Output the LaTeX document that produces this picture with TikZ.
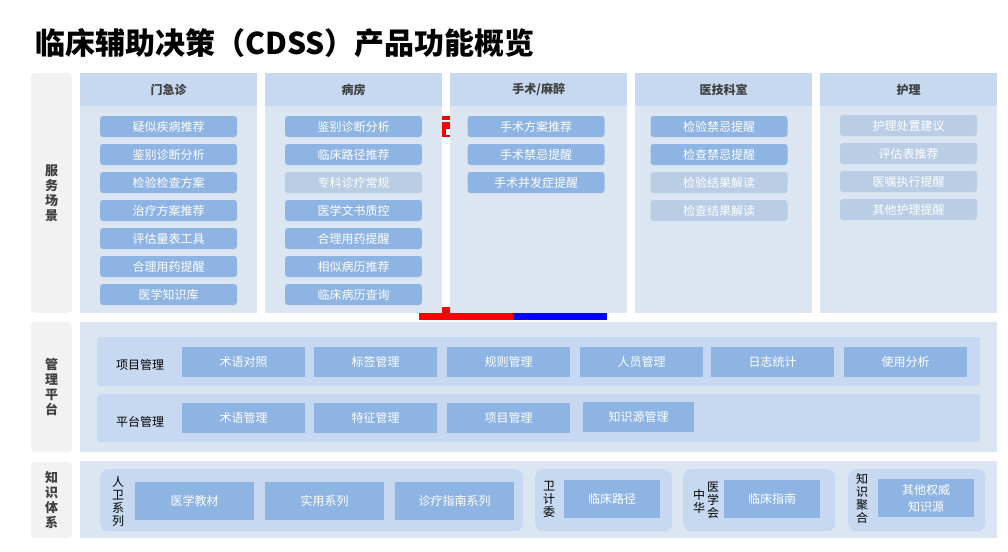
\documentclass[tikz,border=0pt]{standalone}
\usepackage{fontspec}
\setmainfont{Noto Sans CJK SC}
\usetikzlibrary{positioning}
\definecolor{sidegray}{RGB}{242,242,242}
\definecolor{headblue}{RGB}{198,217,240}
\definecolor{paneblue}{RGB}{220,230,242}
\definecolor{itemblue}{RGB}{142,180,227}
\definecolor{fadeblue}{RGB}{185,205,229}
\definecolor{darktext}{RGB}{64,64,64}

\begin{document}
\begin{tikzpicture}[x=1pt, y=-1pt,
		sidebox/.style={fill=sidegray, rounded corners=4pt, minimum width=41pt, align=center, text=darktext, font=\bfseries\fontsize{13}{15}\selectfont},
		colhead/.style={fill=headblue, minimum width=177pt, minimum height=33pt, inner sep=0pt, text=darktext, font=\bfseries\fontsize{12}{14}\selectfont},
		colbody/.style={fill=paneblue, minimum width=177pt, minimum height=207pt, inner sep=0pt},
		item/.style={fill=itemblue, rounded corners=3pt, minimum width=137pt, minimum height=21pt, inner sep=0pt, text=white, font=\fontsize{12}{14}\selectfont},
		pane/.style={fill=paneblue, inner sep=0pt, anchor=north west},
		rowbox/.style={fill=headblue, rounded corners=3pt, inner sep=0pt, anchor=north west},
		mbox/.style={fill=itemblue, minimum width=123pt, minimum height=30pt, inner sep=0pt, text=white, font=\fontsize{12}{14}\selectfont},
		kbox/.style={fill=itemblue, minimum width=96pt, minimum height=38pt, inner sep=0pt, align=center, text=white, font=\fontsize{12}{17}\selectfont},
		kgroup/.style={fill=headblue, rounded corners=8pt, inner sep=0pt, anchor=north west, minimum height=62pt},
		vlabel/.style={inner sep=0pt, align=center, font=\fontsize{12}{13}\selectfont},
		rowlabel/.style={inner sep=0pt, anchor=west, font=\fontsize{12}{14}\selectfont}]
		\useasboundingbox (0,0) rectangle (1008,551);
		% Titel
		\node[anchor=west, inner sep=0pt, font=\bfseries\fontsize{30}{32}\selectfont] (title) at (35,43) {临床辅助决策（CDSS）产品功能概览};
		% linke Leiste
		\node[sidebox, minimum height=240pt] (svc) at (51.5,193) {服\\务\\场\\景};
		\node[sidebox, minimum height=130pt] (mgt) at (51.5,387) {管\\理\\平\\台};
		\node[sidebox, minimum height=76pt] (kno) at (51.5,500) {知\\识\\体\\系};
		% Reste hinter den Spalten
		\fill[red] (442,116) rectangle (450,119.5);
		\fill[red] (442,122) rectangle (450,137);
		\fill[white] (446,129) rectangle (450,134.5);
		\fill[red] (442,307) rectangle (450,313);
		\fill[red] (419,313) rectangle (513,320);
		\fill[blue] (513,313) rectangle (607,320);
		% Spalten
		\foreach \x/\n/\t in {80/op/门急诊, 265/wd/病房, 450/sg/{手术/麻醉}, 635/mt/医技科室, 820/nr/护理} {
			\node[colhead, anchor=north west] (h\n) at (\x,73) {\t};
			\node[colbody, anchor=north west] (b\n) at (\x,106) {};
		}
		\foreach \c/\t [count=\i] in {itemblue/疑似疾病推荐, itemblue/鉴别诊断分析, itemblue/检验检查方案, itemblue/治疗方案推荐, itemblue/评估量表工具, itemblue/合理用药提醒, itemblue/医学知识库}
			\node[item, fill=\c] (op\i) at (168.5,{126.5+28*(\i-1)}) {\t};
		\foreach \c/\t [count=\i] in {itemblue/鉴别诊断分析, itemblue/临床路径推荐, fadeblue/专科诊疗常规, itemblue/医学文书质控, itemblue/合理用药提醒, itemblue/相似病历推荐, itemblue/临床病历查询}
			\node[item, fill=\c] (wd\i) at (353.5,{126.5+28*(\i-1)}) {\t};
		\foreach \c/\t [count=\i] in {itemblue/手术方案推荐, itemblue/手术禁忌提醒, itemblue/手术并发症提醒}
			\node[item, fill=\c] (sg\i) at (536,{126.5+28*(\i-1)}) {\t};
		\foreach \c/\t [count=\i] in {itemblue/检验禁忌提醒, itemblue/检查禁忌提醒, fadeblue/检验结果解读, fadeblue/检查结果解读}
			\node[item, fill=\c] (mt\i) at (719,{126.5+28*(\i-1)}) {\t};
		\foreach \c/\t [count=\i] in {fadeblue/护理处置建议, fadeblue/评估表推荐, fadeblue/医嘱执行提醒, fadeblue/其他护理提醒}
			\node[item, fill=\c] (nr\i) at (908.5,{125.5+28*(\i-1)}) {\t};
		% Verwaltungsplattform
		\node[pane, minimum width=917pt, minimum height=130pt] (mpane) at (80,322) {};
		\node[rowbox, minimum width=883pt, minimum height=49pt] (row1) at (97,337) {};
		\node[rowbox, minimum width=883pt, minimum height=48pt] (row2) at (97,394) {};
		\node[rowlabel] (lbl1) at (116,365) {项目管理};
		\node[rowlabel] (lbl2) at (116,422) {平台管理};
		\foreach \x/\t [count=\i] in {243.5/术语对照, 375.5/标签管理, 508.5/规则管理, 641.5/人员管理, 772.5/日志统计, 905.5/使用分析}
			\node[mbox] (pm\i) at (\x,361.5) {\t};
		\foreach \x/\t [count=\i] in {243.5/术语管理, 375.5/特征管理, 508.5/项目管理}
			\node[mbox] (pf\i) at (\x,417.5) {\t};
		\node[mbox, minimum width=111pt] (pf4) at (638.5,417) {知识源管理};
		% Wissenssystem
		\node[pane, minimum width=917pt, minimum height=77pt] (kpane) at (80,461) {};
		\node[kgroup, minimum width=423pt] (g1) at (100,469) {};
		\node[kgroup, minimum width=137pt] (g2) at (535,469) {};
		\node[kgroup, minimum width=152pt] (g3) at (683,469) {};
		\node[kgroup, minimum width=137pt] (g4) at (848,469) {};
		\node[vlabel] (l1) at (118,501) {人\\卫\\系\\列};
		\foreach \x/\t [count=\i] in {194.5/医学教材, 324.5/实用系列, 454.5/诊疗指南系列}
			\node[kbox, minimum width=119pt] (k\i) at (\x,501) {\t};
		\node[vlabel] (l2) at (549,499) {卫\\计\\委};
		\node[kbox] (k4) at (612,499) {临床路径};
		\node[vlabel] (l3a) at (699,501.5) {中\\华};
		\node[vlabel] (l3b) at (713,500) {医\\学\\会};
		\node[kbox] (k5) at (772,499) {临床指南};
		\node[vlabel] (l4) at (862,498) {知\\识\\聚\\合};
		\node[kbox] (k6) at (926,498) {其他权威\\知识源};
	\end{tikzpicture}
\end{document}
